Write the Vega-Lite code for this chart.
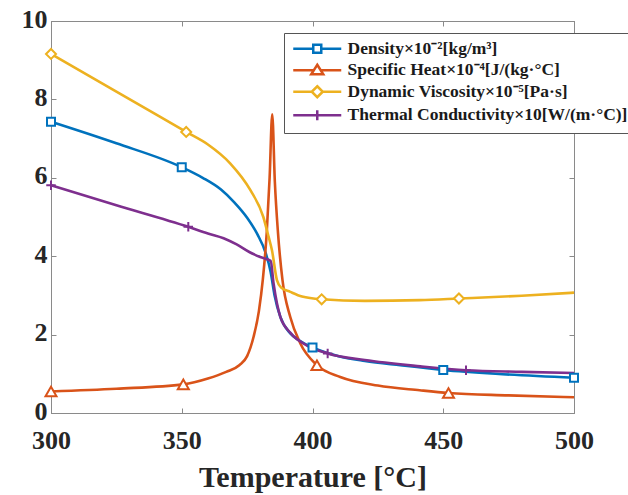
{
  "$schema": "https://vega.github.io/schema/vega-lite/v6.json",
  "width": 523,
  "height": 392,
  "autosize": "none",
  "padding": {"left": 51, "top": 21, "right": 54, "bottom": 82},
  "background": "white",
  "config": {
    "font": "Liberation Serif",
    "view": {"stroke": "#8a8a8a", "strokeWidth": 1},
    "axis": {
      "grid": false,
      "domainColor": "#8a8a8a",
      "tickColor": "#8a8a8a",
      "tickSize": -5,
      "labelFlush": false,
      "labelFont": "Liberation Serif",
      "labelFontWeight": "bold",
      "labelFontSize": 26,
      "labelColor": "#262626",
      "titleFont": "Liberation Serif",
      "titleFontWeight": "bold",
      "titleFontSize": 30,
      "titleColor": "#262626"
    }
  },
  "datasets": {
    "curves": [
      {"series": "Density", "T": 300, "v": 7.43},
      {"series": "Density", "T": 325, "v": 6.88},
      {"series": "Density", "T": 350, "v": 6.27},
      {"series": "Density", "T": 358, "v": 6.0},
      {"series": "Density", "T": 365, "v": 5.7},
      {"series": "Density", "T": 370, "v": 5.38},
      {"series": "Density", "T": 375, "v": 4.98},
      {"series": "Density", "T": 379, "v": 4.55},
      {"series": "Density", "T": 382, "v": 4.1},
      {"series": "Density", "T": 384, "v": 3.6},
      {"series": "Density", "T": 385.5, "v": 3.0},
      {"series": "Density", "T": 387.7, "v": 2.45},
      {"series": "Density", "T": 391.5, "v": 2.03},
      {"series": "Density", "T": 395, "v": 1.85},
      {"series": "Density", "T": 400, "v": 1.67},
      {"series": "Density", "T": 410, "v": 1.45},
      {"series": "Density", "T": 420, "v": 1.33},
      {"series": "Density", "T": 433.6, "v": 1.22},
      {"series": "Density", "T": 450, "v": 1.1},
      {"series": "Density", "T": 470, "v": 1.0},
      {"series": "Density", "T": 500, "v": 0.9},

      {"series": "Specific Heat", "T": 300, "v": 0.55},
      {"series": "Specific Heat", "T": 325, "v": 0.62},
      {"series": "Specific Heat", "T": 350.6, "v": 0.73},
      {"series": "Specific Heat", "T": 360, "v": 0.88},
      {"series": "Specific Heat", "T": 367, "v": 1.05},
      {"series": "Specific Heat", "T": 372, "v": 1.22},
      {"series": "Specific Heat", "T": 375, "v": 1.45},
      {"series": "Specific Heat", "T": 377.5, "v": 1.95},
      {"series": "Specific Heat", "T": 379.5, "v": 2.6},
      {"series": "Specific Heat", "T": 381, "v": 3.4},
      {"series": "Specific Heat", "T": 382.5, "v": 4.6},
      {"series": "Specific Heat", "T": 383.6, "v": 6.0},
      {"series": "Specific Heat", "T": 384.6, "v": 7.62},
      {"series": "Specific Heat", "T": 385.6, "v": 5.9},
      {"series": "Specific Heat", "T": 386.8, "v": 4.6},
      {"series": "Specific Heat", "T": 388.5, "v": 3.4},
      {"series": "Specific Heat", "T": 391.5, "v": 2.45},
      {"series": "Specific Heat", "T": 395.3, "v": 1.78},
      {"series": "Specific Heat", "T": 401.7, "v": 1.22},
      {"series": "Specific Heat", "T": 410.6, "v": 0.92},
      {"series": "Specific Heat", "T": 425, "v": 0.7},
      {"series": "Specific Heat", "T": 441, "v": 0.58},
      {"series": "Specific Heat", "T": 452, "v": 0.51},
      {"series": "Specific Heat", "T": 475, "v": 0.45},
      {"series": "Specific Heat", "T": 500, "v": 0.4},

      {"series": "Dynamic Viscosity", "T": 300, "v": 9.16},
      {"series": "Dynamic Viscosity", "T": 325, "v": 8.2},
      {"series": "Dynamic Viscosity", "T": 351.7, "v": 7.17},
      {"series": "Dynamic Viscosity", "T": 360, "v": 6.85},
      {"series": "Dynamic Viscosity", "T": 368.5, "v": 6.37},
      {"series": "Dynamic Viscosity", "T": 376.2, "v": 5.69},
      {"series": "Dynamic Viscosity", "T": 381.2, "v": 5.0},
      {"series": "Dynamic Viscosity", "T": 383.2, "v": 4.5},
      {"series": "Dynamic Viscosity", "T": 384.5, "v": 4.15},
      {"series": "Dynamic Viscosity", "T": 386.4, "v": 3.39},
      {"series": "Dynamic Viscosity", "T": 388, "v": 3.2},
      {"series": "Dynamic Viscosity", "T": 391.5, "v": 3.09},
      {"series": "Dynamic Viscosity", "T": 396, "v": 2.97},
      {"series": "Dynamic Viscosity", "T": 403.5, "v": 2.9},
      {"series": "Dynamic Viscosity", "T": 420, "v": 2.86},
      {"series": "Dynamic Viscosity", "T": 441, "v": 2.88},
      {"series": "Dynamic Viscosity", "T": 456, "v": 2.92},
      {"series": "Dynamic Viscosity", "T": 480, "v": 2.99},
      {"series": "Dynamic Viscosity", "T": 500, "v": 3.07},

      {"series": "Thermal Conductivity", "T": 300, "v": 5.81},
      {"series": "Thermal Conductivity", "T": 325, "v": 5.3},
      {"series": "Thermal Conductivity", "T": 352.5, "v": 4.75},
      {"series": "Thermal Conductivity", "T": 360, "v": 4.58},
      {"series": "Thermal Conductivity", "T": 366, "v": 4.46},
      {"series": "Thermal Conductivity", "T": 371, "v": 4.3},
      {"series": "Thermal Conductivity", "T": 376, "v": 4.1},
      {"series": "Thermal Conductivity", "T": 380, "v": 3.98},
      {"series": "Thermal Conductivity", "T": 384, "v": 3.88},
      {"series": "Thermal Conductivity", "T": 385.1, "v": 3.31},
      {"series": "Thermal Conductivity", "T": 386.4, "v": 2.8},
      {"series": "Thermal Conductivity", "T": 387.7, "v": 2.45},
      {"series": "Thermal Conductivity", "T": 391.5, "v": 2.05},
      {"series": "Thermal Conductivity", "T": 397.9, "v": 1.72},
      {"series": "Thermal Conductivity", "T": 405.8, "v": 1.52},
      {"series": "Thermal Conductivity", "T": 420, "v": 1.35},
      {"series": "Thermal Conductivity", "T": 441.2, "v": 1.19},
      {"series": "Thermal Conductivity", "T": 458.7, "v": 1.09},
      {"series": "Thermal Conductivity", "T": 480, "v": 1.05},
      {"series": "Thermal Conductivity", "T": 500, "v": 1.02}
    ],
    "markers": [
      {"series": "Density", "T": 300, "v": 7.43},
      {"series": "Density", "T": 350, "v": 6.27},
      {"series": "Density", "T": 400, "v": 1.67},
      {"series": "Density", "T": 450, "v": 1.1},
      {"series": "Density", "T": 500, "v": 0.9},
      {"series": "Specific Heat", "T": 300, "v": 0.55},
      {"series": "Specific Heat", "T": 350.6, "v": 0.73},
      {"series": "Specific Heat", "T": 401.7, "v": 1.22},
      {"series": "Specific Heat", "T": 452, "v": 0.51},
      {"series": "Dynamic Viscosity", "T": 300, "v": 9.16},
      {"series": "Dynamic Viscosity", "T": 351.7, "v": 7.17},
      {"series": "Dynamic Viscosity", "T": 403.5, "v": 2.9},
      {"series": "Dynamic Viscosity", "T": 456, "v": 2.92},
      {"series": "Thermal Conductivity", "T": 300, "v": 5.81},
      {"series": "Thermal Conductivity", "T": 352.5, "v": 4.75},
      {"series": "Thermal Conductivity", "T": 405.8, "v": 1.52},
      {"series": "Thermal Conductivity", "T": 458.7, "v": 1.09}
    ]
  },
  "resolve": {"axis": {"x": "independent", "y": "independent"}},
  "layer": [
    {
      "data": {"name": "curves"},
      "mark": {"type": "line", "interpolate": "monotone", "strokeWidth": 2.6},
      "encoding": {
        "x": {
          "field": "T", "type": "quantitative",
          "scale": {"domain": [300, 500], "nice": false, "zero": false},
          "axis": {"orient": "bottom", "values": [300, 350, 400, 450, 500], "labelPadding": 19, "title": "Temperature [°C]", "titlePadding": 9}
        },
        "y": {
          "field": "v", "type": "quantitative",
          "scale": {"domain": [0, 10], "nice": false},
          "axis": {"orient": "left", "values": [0, 2, 4, 6, 8, 10], "labelPadding": 9, "labelOffset": -2, "title": null}
        },
        "color": {
          "field": "series", "type": "nominal",
          "scale": {
            "domain": ["Density", "Specific Heat", "Dynamic Viscosity", "Thermal Conductivity"],
            "range": ["#0072BD", "#D95319", "#EDB120", "#7E2F8E"]
          },
          "legend": {
            "orient": "none",
            "legendX": 233,
            "legendY": 12,
            "title": null,
            "padding": 7,
            "rowPadding": 1.5,
            "strokeColor": "#555555",
            "fillColor": "white",
            "labelFont": "Liberation Serif",
            "labelFontWeight": "bold",
            "labelFontSize": 17.5,
            "labelColor": "#1a1a1a",
            "labelLimit": 0,
            "labelOffset": 39,
            "symbolSize": 100,
            "symbolStrokeWidth": 2.5,
            "labelExpr": "datum.value == 'Density' ? 'Density×10⁻²[kg/m³]' : datum.value == 'Specific Heat' ? 'Specific Heat×10⁻⁴[J/(kg·°C]' : datum.value == 'Dynamic Viscosity' ? 'Dynamic Viscosity×10⁻⁵[Pa·s]' : 'Thermal Conductivity×10[W/(m·°C)]'",
            "encode": {
              "symbols": {
                "update": {
                  "shape": {"signal": "datum.value == 'Density' ? 'M-1.3,0H2.7M4.3,0H8.3M2.7,-0.8H4.3V0.8H2.7Z' : datum.value == 'Specific Heat' ? 'M-1.3,0H2.81M4.19,0H8.3M3.5,-1.1L4.7,0.8L2.3,0.8Z' : datum.value == 'Dynamic Viscosity' ? 'M-1.3,0H2.4M4.6,0H8.3M3.5,-1.1L4.6,0L3.5,1.1L2.4,0Z' : 'M-1.3,0H8.3M3.5,-1V1'"},
                  "fill": {"value": "white"},
                  "size": {"value": 100},
                  "strokeWidth": {"value": 2.5}
                }
              }
            }
          }
        }
      }
    },
    {
      "data": {"name": "markers"},
      "transform": [{"filter": "datum.series == 'Density'"}],
      "mark": {"type": "point", "shape": "square", "size": 64, "filled": false, "fill": "white", "strokeWidth": 2, "opacity": 1},
      "encoding": {
        "x": {"field": "T", "type": "quantitative", "axis": null},
        "y": {"field": "v", "type": "quantitative", "axis": null},
        "color": {"field": "series", "type": "nominal"}
      }
    },
    {
      "data": {"name": "markers"},
      "transform": [{"filter": "datum.series == 'Specific Heat'"}],
      "mark": {"type": "point", "shape": "triangle-up", "size": 121, "filled": false, "fill": "white", "strokeWidth": 2, "opacity": 1},
      "encoding": {
        "x": {"field": "T", "type": "quantitative", "axis": null},
        "y": {"field": "v", "type": "quantitative", "axis": null},
        "color": {"field": "series", "type": "nominal"}
      }
    },
    {
      "data": {"name": "markers"},
      "transform": [{"filter": "datum.series == 'Dynamic Viscosity'"}],
      "mark": {"type": "point", "shape": "diamond", "size": 100, "filled": false, "fill": "white", "strokeWidth": 2, "opacity": 1},
      "encoding": {
        "x": {"field": "T", "type": "quantitative", "axis": null},
        "y": {"field": "v", "type": "quantitative", "axis": null},
        "color": {"field": "series", "type": "nominal"}
      }
    },
    {
      "data": {"name": "markers"},
      "transform": [{"filter": "datum.series == 'Thermal Conductivity'"}],
      "mark": {"type": "point", "shape": "M-1,0H1M0,-1V1", "size": 90, "filled": false, "strokeWidth": 2, "opacity": 1},
      "encoding": {
        "x": {"field": "T", "type": "quantitative", "axis": null},
        "y": {"field": "v", "type": "quantitative", "axis": null},
        "color": {"field": "series", "type": "nominal"}
      }
    },
    {
      "mark": {"type": "rule", "color": "black", "strokeWidth": 1, "strokeDash": [3, 2]},
      "encoding": {
        "x": {
          "datum": 384.7, "type": "quantitative",
          "axis": {"orient": "top", "values": [300, 350, 400, 450, 500], "labels": false, "title": null}
        },
        "y": {
          "datum": 0, "type": "quantitative",
          "axis": {"orient": "right", "values": [0, 2, 4, 6, 8, 10], "labels": false, "title": null}
        },
        "y2": {"datum": 10}
      }
    },
    {
      "mark": {"type": "text", "text": "T", "font": "Liberation Serif", "fontWeight": "bold", "fontStyle": "italic", "fontSize": 24, "align": "left", "baseline": "alphabetic", "color": "#111111"},
      "encoding": {
        "x": {"datum": 386.3, "type": "quantitative", "axis": null},
        "y": {"datum": 0.38, "type": "quantitative", "axis": null}
      }
    },
    {
      "mark": {"type": "text", "text": "pc", "font": "Liberation Serif", "fontSize": 18, "align": "left", "baseline": "alphabetic", "color": "#111111"},
      "encoding": {
        "x": {"datum": 391.3, "type": "quantitative", "axis": null},
        "y": {"datum": 0.06, "type": "quantitative", "axis": null}
      }
    }
  ]
}
